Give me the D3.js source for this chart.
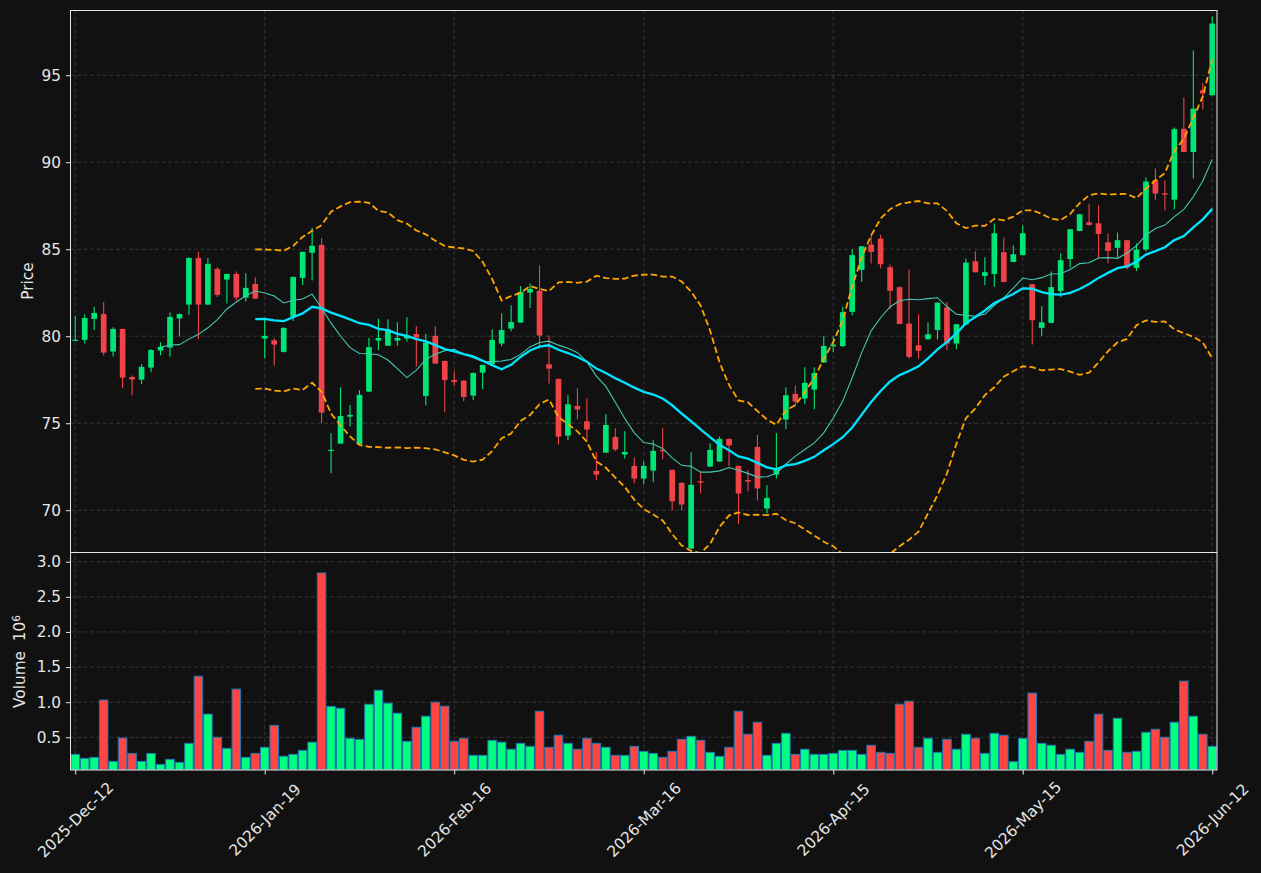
<!DOCTYPE html>
<html>
<head>
<meta charset="utf-8">
<script src="https://cdn.jsdelivr.net/npm/d3@7/dist/d3.min.js"></script>
<style>
    html, body { margin: 0; padding: 0; background: #111111; }
    svg { display: block; font-family: "DejaVu Sans", sans-serif; }
</style>
</head>
<body>
<div id="chart"></div>
<script>
// daily bars (index 0 = 2025-Dec-12)
let opens = [79.78, 79.79, 81.00, 81.28, 79.12, 80.42, 77.66, 77.51, 78.20, 79.18,
    79.35, 81.02, 81.82, 84.50, 81.82, 83.87, 83.26, 83.58, 82.22, 83.01,
    79.87, 79.77, 79.10, 81.11, 83.35, 84.80, 85.25, 73.45, 73.83, 75.38,
    73.79, 76.82, 79.75, 79.46, 79.75, 79.87, 80.13, 76.57, 80.02, 78.58,
    77.49, 77.45, 76.59, 77.91, 78.41, 79.58, 80.44, 80.79, 82.51, 82.61,
    78.39, 77.55, 74.29, 76.00, 75.11, 72.26, 73.31, 74.21, 73.20, 72.55,
    71.82, 72.28, 73.47, 72.32, 71.57, 67.80, 71.67, 72.51, 72.80, 74.10,
    72.55, 71.74, 73.64, 70.10, 72.05, 75.21, 76.69, 76.42, 76.93, 78.49,
    79.42, 79.43, 81.40, 83.81, 85.27, 85.61, 83.97, 82.82, 80.73, 79.48,
    79.83, 80.36, 81.65, 79.58, 80.67, 84.31, 83.47, 83.58, 84.83, 84.27,
    84.66, 82.99, 80.48, 80.77, 82.59, 84.44, 86.05, 86.55, 86.49, 85.40,
    85.08, 85.52, 83.93, 84.98, 88.97, 88.22, 87.85, 91.92, 90.59, 94.14,
    93.85];
let highs = [81.15, 81.26, 81.69, 81.97, 80.52, 80.45, 77.74, 78.39, 79.25, 79.66,
    81.36, 81.30, 84.52, 84.85, 84.50, 83.98, 83.60, 83.72, 83.62, 83.39,
    81.05, 79.89, 80.52, 83.43, 84.87, 86.24, 85.63, 74.43, 77.07, 76.05,
    76.90, 79.92, 81.00, 80.98, 80.80, 81.09, 80.59, 80.13, 80.59, 78.60,
    77.99, 77.47, 77.91, 78.37, 80.40, 81.32, 81.78, 82.89, 83.03, 84.08,
    80.06, 77.57, 76.61, 77.01, 76.44, 73.33, 75.52, 74.71, 74.54, 73.01,
    72.82, 74.02, 74.73, 72.34, 71.63, 73.33, 72.20, 73.85, 74.23, 74.12,
    72.57, 72.30, 74.33, 71.44, 74.43, 77.07, 77.18, 78.22, 78.22, 80.02,
    79.98, 81.69, 85.00, 85.19, 85.84, 85.84, 84.12, 82.87, 83.83, 81.26,
    80.79, 81.95, 81.97, 80.71, 84.46, 84.89, 84.54, 86.48, 85.67, 85.21,
    86.38, 83.01, 81.72, 83.72, 84.75, 86.17, 87.03, 87.62, 87.53, 85.90,
    85.96, 85.54, 85.33, 89.12, 89.64, 88.95, 91.99, 93.72, 96.42, 94.56,
    98.39];
let lows = [79.75, 79.58, 80.36, 78.89, 78.83, 77.01, 76.61, 77.24, 77.93, 78.91,
    78.83, 79.98, 81.23, 79.83, 81.80, 82.26, 81.88, 82.05, 81.99, 82.14,
    78.74, 78.31, 79.06, 80.88, 82.93, 83.20, 75.00, 72.13, 73.81, 74.81,
    73.77, 76.80, 79.21, 79.44, 79.46, 79.69, 78.26, 76.02, 78.41, 75.63,
    77.15, 76.26, 76.34, 76.95, 78.39, 79.43, 80.29, 80.77, 81.63, 79.29,
    77.28, 73.77, 74.02, 75.23, 73.97, 71.72, 73.29, 73.39, 72.97, 71.55,
    71.49, 71.61, 72.93, 70.00, 70.00, 67.78, 70.96, 72.49, 72.78, 72.53,
    69.20, 71.09, 70.56, 69.81, 71.82, 74.66, 75.98, 76.09, 75.80, 78.47,
    79.08, 79.39, 81.21, 83.12, 84.18, 83.89, 81.55, 80.69, 78.72, 78.72,
    79.81, 79.81, 79.20, 79.25, 80.65, 83.66, 82.93, 82.85, 83.10, 84.25,
    84.64, 79.52, 80.02, 80.75, 82.26, 83.93, 86.03, 86.36, 84.46, 84.18,
    84.52, 83.83, 83.75, 84.87, 87.82, 87.24, 87.30, 90.57, 89.06, 93.03,
    93.83];
let closes = [79.80, 81.05, 81.34, 79.06, 80.42, 77.62, 77.51, 78.24, 79.21, 79.39,
    81.11, 81.28, 84.50, 81.82, 84.16, 82.38, 83.58, 82.22, 82.78, 82.16,
    80.02, 79.52, 80.48, 83.41, 84.85, 85.20, 75.61, 73.47, 75.42, 75.48,
    76.63, 79.37, 79.90, 80.40, 79.90, 80.04, 79.92, 79.64, 78.43, 77.49,
    77.38, 76.51, 77.89, 78.35, 79.79, 80.36, 80.82, 82.55, 82.72, 80.04,
    78.14, 74.23, 76.09, 75.79, 74.64, 72.05, 74.90, 73.49, 73.35, 71.82,
    72.55, 73.41, 73.39, 70.52, 70.33, 71.46, 71.59, 73.47, 74.10, 73.72,
    70.96, 71.65, 71.25, 70.71, 72.36, 76.61, 76.25, 77.32, 77.89, 79.44,
    79.52, 81.38, 84.66, 85.17, 84.85, 84.14, 82.61, 80.71, 78.81, 79.16,
    80.11, 81.93, 79.58, 80.69, 84.23, 83.68, 83.68, 85.92, 83.12, 84.71,
    85.92, 80.92, 80.80, 82.82, 84.37, 86.15, 87.01, 86.40, 85.88, 84.90,
    85.52, 83.95, 84.98, 88.89, 88.20, 88.14, 91.90, 90.59, 93.08, 93.95,
    97.97];
// volume in millions
let volumes = [0.257, 0.200, 0.214, 1.030, 0.157, 0.490, 0.270, 0.157, 0.270, 0.114,
    0.186, 0.143, 0.414, 1.370, 0.830, 0.500, 0.343, 1.186, 0.214, 0.270,
    0.357, 0.670, 0.230, 0.257, 0.314, 0.430, 2.840, 0.940, 0.914, 0.486,
    0.470, 0.970, 1.170, 0.986, 0.843, 0.443, 0.643, 0.800, 1.000, 0.943,
    0.443, 0.486, 0.243, 0.243, 0.457, 0.430, 0.330, 0.414, 0.371, 0.871,
    0.357, 0.529, 0.414, 0.330, 0.486, 0.414, 0.357, 0.243, 0.243, 0.371,
    0.300, 0.271, 0.214, 0.300, 0.471, 0.514, 0.457, 0.286, 0.229, 0.357,
    0.871, 0.543, 0.714, 0.243, 0.414, 0.557, 0.257, 0.330, 0.257, 0.257,
    0.271, 0.314, 0.314, 0.257, 0.386, 0.286, 0.271, 0.971, 1.014, 0.357,
    0.486, 0.286, 0.471, 0.330, 0.543, 0.486, 0.271, 0.557, 0.529, 0.152,
    0.486, 1.129, 0.414, 0.386, 0.257, 0.330, 0.286, 0.443, 0.829, 0.314,
    0.771, 0.286, 0.300, 0.571, 0.614, 0.500, 0.714, 1.300, 0.800, 0.543,
    0.371];

let tickIndex = [0, 20, 40, 60, 80, 100, 120];
let tickLabels = ["2025-Dec-12", "2026-Jan-19", "2026-Feb-16", "2026-Mar-16", "2026-Apr-15", "2026-May-15", "2026-Jun-12"];
let priceTicks = [70, 75, 80, 85, 90, 95];
let volumeTicks = [0.5, 1.0, 1.5, 2.0, 2.5, 3.0];

const SHORT_MA = 10;
const LONG_MA = 20;   // also the bollinger window
const BAND_WIDTH = 2;
const FONT_SIZE = "15.3px";

// rolling mean / std of the closes, same as the indicators on the chart
function rolling(values, n) {
    return values.map((v, i) => {
        if (i < n - 1) return null;
        let win = values.slice(i - n + 1, i + 1);
        let mean = d3.mean(win);
        let sd = Math.sqrt(d3.mean(win, w => (w - mean) * (w - mean)));
        return { i: i, mean: mean, sd: sd };
    }).filter(d => d != null);
}

function drawChart() {
    let width = 1261, height = 873;
    let left = 70.5, right = 1217;
    let priceTop = 10, priceBottom = 552;
    let volTop = 553, volBottom = 770;

    let upColor = "#00e676", downColor = "#ef4348";
    let volUp = "#00ff80", volDown = "#ff4444";
    let gridColor = "#3a3a3a", spineColor = "#e6e6e6", textColor = "#e6e6e6";

    let bars = closes.map((c, i) => ({ i: i, o: opens[i], h: highs[i], l: lows[i], c: c, v: volumes[i] }));

    let svg = d3.select("#chart").append("svg")
        .attr("width", width)
        .attr("height", height);

    svg.append("rect").attr("width", width).attr("height", height).attr("fill", "#111111");

    let x = d3.scaleLinear().domain([-0.5, 120.5]).range([left, right]);
    let y = d3.scaleLinear().domain([67.60, 98.75]).range([priceBottom, priceTop]);
    let yv = d3.scaleLinear()
        .domain([0.3 * d3.min(volumes), 1.1 * d3.max(volumes)])
        .range([volBottom, volTop]);

    let step = x(1) - x(0);

    let defs = svg.append("defs");
    defs.append("clipPath").attr("id", "clip-price")
        .append("rect").attr("x", left).attr("y", priceTop)
        .attr("width", right - left).attr("height", priceBottom - priceTop);
    defs.append("clipPath").attr("id", "clip-vol")
        .append("rect").attr("x", left).attr("y", volTop)
        .attr("width", right - left).attr("height", volBottom - volTop);

    // grid
    let grid = svg.append("g")
        .attr("stroke", gridColor)
        .attr("stroke-width", 0.9)
        .attr("stroke-dasharray", "4,2.5");
    grid.selectAll(".gx").data(tickIndex).enter().append("line")
        .attr("x1", d => x(d)).attr("x2", d => x(d))
        .attr("y1", priceTop).attr("y2", volBottom);
    grid.selectAll(".gy").data(priceTicks).enter().append("line")
        .attr("x1", left).attr("x2", right)
        .attr("y1", d => y(d)).attr("y2", d => y(d));
    grid.selectAll(".gv").data(volumeTicks).enter().append("line")
        .attr("x1", left).attr("x2", right)
        .attr("y1", d => yv(d)).attr("y2", d => yv(d));

    // candles
    let price = svg.append("g").attr("clip-path", "url(#clip-price)");
    let candle = price.selectAll(".candle").data(bars).enter().append("g");
    candle.append("line")
        .attr("x1", d => x(d.i)).attr("x2", d => x(d.i))
        .attr("y1", d => y(d.h)).attr("y2", d => y(d.l))
        .attr("stroke", d => d.c >= d.o ? upColor : downColor)
        .attr("stroke-width", 1.1);
    candle.append("rect")
        .attr("x", d => x(d.i) - step * 0.3)
        .attr("width", step * 0.6)
        .attr("y", d => y(Math.max(d.o, d.c)))
        .attr("height", d => Math.max(1.2, Math.abs(y(d.o) - y(d.c))))
        .attr("fill", d => d.c >= d.o ? upColor : downColor);

    // moving averages + bollinger bands
    let shortMa = rolling(closes, SHORT_MA);
    let longMa = rolling(closes, LONG_MA);

    let line = (acc) => d3.line().x(d => x(d.i)).y(d => y(acc(d)));

    price.append("path").datum(longMa)
        .attr("d", line(d => d.mean + BAND_WIDTH * d.sd))
        .attr("fill", "none").attr("stroke", "#ffa500")
        .attr("stroke-width", 1.8).attr("stroke-dasharray", "6.5,3.2");
    price.append("path").datum(longMa)
        .attr("d", line(d => d.mean - BAND_WIDTH * d.sd))
        .attr("fill", "none").attr("stroke", "#ffa500")
        .attr("stroke-width", 1.8).attr("stroke-dasharray", "6.5,3.2");
    price.append("path").datum(shortMa)
        .attr("d", line(d => d.mean))
        .attr("fill", "none").attr("stroke", "#45c8b4")
        .attr("stroke-width", 1.1);
    price.append("path").datum(longMa)
        .attr("d", line(d => d.mean))
        .attr("fill", "none").attr("stroke", "#00e5ff")
        .attr("stroke-width", 2.3);

    // volume
    svg.append("g").attr("clip-path", "url(#clip-vol)")
        .selectAll("rect").data(bars).enter().append("rect")
        .attr("x", d => x(d.i) - step * 0.45)
        .attr("width", step * 0.9)
        .attr("y", d => yv(d.v))
        .attr("height", d => volBottom - yv(d.v))
        .attr("fill", d => d.c >= d.o ? volUp : volDown)
        .attr("stroke", "#1f77b4")
        .attr("stroke-width", 1);

    // axes
    let yAxis = svg.append("g")
        .attr("transform", "translate(" + left + ",0)")
        .call(d3.axisLeft(y).tickValues(priceTicks).tickSize(4.5).tickPadding(5).tickFormat(d3.format("d")));
    let vAxis = svg.append("g")
        .attr("transform", "translate(" + left + ",0)")
        .call(d3.axisLeft(yv).tickValues(volumeTicks).tickSize(4.5).tickPadding(5).tickFormat(d3.format(".1f")));
    let xAxis = svg.append("g")
        .attr("transform", "translate(0," + volBottom + ")")
        .call(d3.axisBottom(x).tickValues(tickIndex).tickSize(4.5).tickFormat((d, i) => tickLabels[i]));

    [yAxis, vAxis, xAxis].forEach(function (a) {
        a.select(".domain").remove();
        a.selectAll(".tick line").attr("stroke", spineColor).attr("stroke-width", 1);
        a.selectAll(".tick text")
            .attr("fill", textColor)
            .style("font-family", "DejaVu Sans")
            .style("font-size", FONT_SIZE);
    });

    // rotate date labels, centred under the tick like the original
    xAxis.selectAll(".tick text")
        .attr("y", null).attr("dy", null)
        .attr("text-anchor", "middle")
        .attr("dominant-baseline", "central")
        .attr("transform", "translate(0,50) rotate(-45)");

    // spines
    let spines = svg.append("g").attr("fill", "none").attr("stroke", spineColor).attr("stroke-width", 1);
    spines.append("rect").attr("x", left).attr("y", priceTop + 0.5)
        .attr("width", right - left).attr("height", priceBottom - priceTop);
    spines.append("rect").attr("x", left).attr("y", volTop - 0.5)
        .attr("width", right - left).attr("height", volBottom - volTop + 0.5);

    // axis labels
    svg.append("text")
        .attr("transform", "translate(33," + (priceTop + priceBottom) / 2 + ") rotate(-90)")
        .attr("text-anchor", "middle")
        .attr("fill", textColor)
        .style("font-size", FONT_SIZE)
        .text("Price");

    let vLabel = svg.append("text")
        .attr("transform", "translate(25," + (volTop + volBottom) / 2 + ") rotate(-90)")
        .attr("text-anchor", "middle")
        .attr("fill", textColor)
        .style("font-size", FONT_SIZE)
        .style("white-space", "pre");
    vLabel.append("tspan").text("Volume  10");
    vLabel.append("tspan").attr("dy", "-0.5em").style("font-size", "10.7px").text("6");
}

drawChart();
</script>
</body>
</html>
